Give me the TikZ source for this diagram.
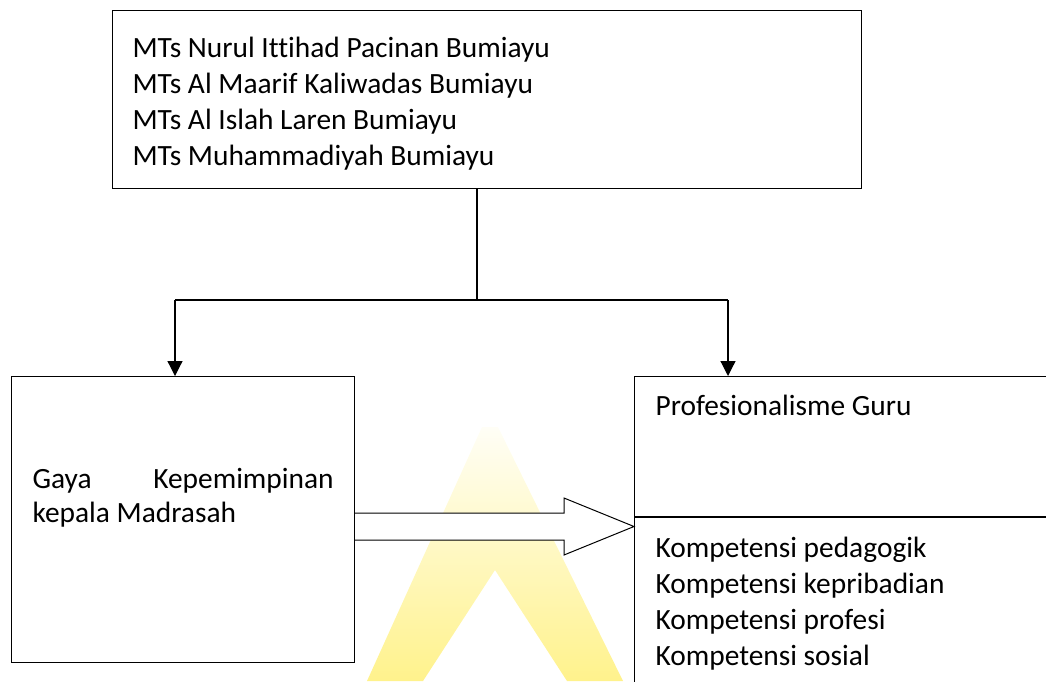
\documentclass[tikz,border=0pt]{standalone}
\usepackage{fontspec}
\setmainfont{Carlito}[Ligatures=NoCommon]
\usetikzlibrary{arrows.meta}
\usetikzlibrary{positioning}

\definecolor{wmatas}{RGB}{255,254,246}
\definecolor{wmbawah}{RGB}{255,242,140}

\begin{document}
\begin{tikzpicture}[x=1pt,y=-1pt,line width=1.2pt,
  kotak/.style={draw,rectangle,inner sep=0pt,anchor=north west},
  teks/.style={inner sep=0pt,anchor=base west,font=\fontsize{29.4}{36}\selectfont},
  panah/.style={-{Triangle[length=15pt,width=15pt]}}]
\useasboundingbox (0,0) rectangle (1046,681);
% watermark
\shade[top color=wmatas, bottom color=wmbawah] (367,681) -- (482,427) -- (498,427)
   -- (623,681) -- (567,681) -- (495,570) -- (423,681) -- cycle;
% kotak
\node[kotak, minimum width=749, minimum height=178] (sekolah) at (112,10) {};
\node[kotak, minimum width=343, minimum height=286] (gaya) at (11,376) {};
\begin{scope}
\clip (0,0) rectangle (1046,681);
\node[kotak, minimum width=460, minimum height=340] (profesi) at (634,376) {};
\draw (profesi.west |- 0,517) -- (profesi.east |- 0,517);
\end{scope}
% teks
\foreach \baris [count=\i] in {MTs Nurul Ittihad Pacinan Bumiayu,
   MTs Al Maarif Kaliwadas Bumiayu, MTs Al Islah Laren Bumiayu,
   MTs Muhammadiyah Bumiayu}
  \node[teks] (mts\i) at (132,{57+36*(\i-1)}) {\baris};
% base = baris terakhir
\node[teks, align=left, font=\fontsize{29.4}{34}\selectfont]
   (gayateks) at (32,522) {\makebox[301pt][s]{Gaya Kepemimpinan}\\kepala Madrasah};
\node[teks] (profteks) at (655,415) {Profesionalisme Guru};
\foreach \baris [count=\i] in {Kompetensi pedagogik, Kompetensi kepribadian,
   Kompetensi profesi, Kompetensi sosial}
  \node[teks] (komp\i) at (655,{557+36*(\i-1)}) {\baris};
% cabang
\coordinate (cabang) at (477,300);
\coordinate (kiri) at (175,300);
\coordinate (kanan) at (728,300);
\draw (sekolah.south -| cabang) -- (cabang);
\draw (kiri) -- (kanan);
\draw[panah] (kiri) -- (kiri |- gaya.north);
\draw[panah] (kanan) -- (kanan |- profesi.north);
% panah besar
\coordinate (ujung) at (profesi.west |- 0,526.5);
\draw[fill=white, line width=1pt, line join=miter] (gaya.east |- 0,513) -- (564,513)
   -- (564,498) -- (ujung) -- (564,555) -- (564,540) -- (gaya.east |- 0,540);
\end{tikzpicture}
\end{document}
